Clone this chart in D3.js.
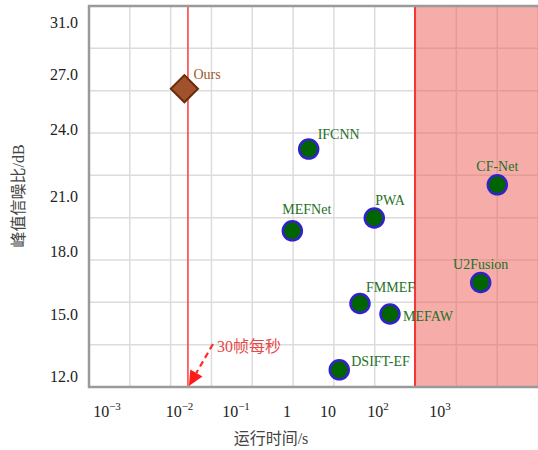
<!DOCTYPE html>
<html><head><meta charset="utf-8">
<script src="https://cdn.jsdelivr.net/npm/d3@7"></script>
<style>body{margin:0;background:#fff}svg{display:block}</style></head>
<body><svg id="c" width="538" height="450"></svg>
<script>
// ---- data ----
const methods  = ["IFCNN","MEFNet","PWA","FMMEF","MEFAW","DSIFT-EF","CF-Net","U2Fusion"];
const runtimes = [3.38, 1.35, 84.3, 43.6, 156, 16.8, 8400, 4530];   // seconds
const psnrs    = [23.1, 19.1, 19.8, 15.5, 15.0, 12.3, 21.5, 16.5];  // dB
const oursName = "Ours";
const oursRuntime = 0.0122;
const oursPsnr = 26.2;
const xTickValues = [1e-3, 1e-2, 1e-1, 1, 10, 1e2, 1e3];
const xTickBases  = ["10", "10", "10", "1", "10", "10", "10"];
const xTickExps   = ["\u22123", "\u22122", "\u22121", "", "", "2", "3"];
const yTickValues = [12, 15, 18, 21, 24, 27, 31];
const yTickLabels = ["12.0", "15.0", "18.0", "21.0", "24.0", "27.0", "31.0"];
const fpsLimit = 0.0141;     // 30 fps line
const slowLimit = 395;       // slow region start
const fpsText = "30帧每秒";
const xTitle = "运行时间/s";
const yTitle = "峰值信噪比/dB";

// ---- layout ----
const L = 89, R = 538, T = 6, B = 387;
const svg = d3.select("#c");
const serif = "Liberation Serif, Times New Roman, Times, Noto Sans CJK SC, serif";

const x = d3.scaleLog().domain(xTickValues).range([107, 179.5, 236, 287, 328, 378, 440]);
const y = d3.scaleLinear().domain(yTickValues).range([376, 314, 251, 196, 129, 74, 22]);
const gx = d3.scaleLinear().domain([0, 11]).range([L, R]);
const gy = d3.scaleLinear().domain([0, 9]).range([T, B]);

svg.append("rect").attr("width", 538).attr("height", 450).attr("fill", "#fff");

// grid
svg.append("g").selectAll("line").data(d3.range(1, 12)).join("line")
  .attr("x1", d => gx(d)).attr("x2", d => gx(d)).attr("y1", T).attr("y2", B)
  .attr("stroke", "#dcdcdc").attr("stroke-width", 1.5);
svg.append("g").selectAll("line").data(d3.range(1, 9)).join("line")
  .attr("y1", d => gy(d)).attr("y2", d => gy(d)).attr("x1", L).attr("x2", R)
  .attr("stroke", "#dcdcdc").attr("stroke-width", 1.5);

// slow region
svg.append("rect").attr("x", x(slowLimit)).attr("y", T)
  .attr("width", R - x(slowLimit)).attr("height", B - T)
  .attr("fill", "#ee5a52").attr("fill-opacity", 0.5);
svg.append("line").attr("x1", x(slowLimit)).attr("x2", x(slowLimit)).attr("y1", T).attr("y2", B)
  .attr("stroke", "#f03838").attr("stroke-width", 2);

// 30 fps line
svg.append("line").attr("x1", x(fpsLimit)).attr("x2", x(fpsLimit)).attr("y1", T).attr("y2", B)
  .attr("stroke", "#ff4545").attr("stroke-width", 1.6);

// frame
svg.append("path").attr("d", `M${R},${T}H${L}V${B}H${R}`)
  .attr("fill", "none").attr("stroke", "#9a9a9a").attr("stroke-width", 2.5);

// y tick labels
svg.append("g").selectAll("text").data(yTickValues).join("text")
  .attr("x", 78).attr("y", d => y(d)).attr("dy", "0.35em")
  .attr("text-anchor", "end").attr("font-family", serif).attr("font-size", 16)
  .attr("fill", "#222").text((d, i) => yTickLabels[i]);

// x tick labels
const xt = svg.append("g").selectAll("text").data(xTickValues).join("text")
  .attr("x", d => x(d)).attr("y", 417)
  .attr("text-anchor", "middle").attr("font-family", serif).attr("font-size", 16)
  .attr("fill", "#222");
xt.append("tspan").text((d, i) => xTickBases[i]);
xt.append("tspan").attr("dy", -7).attr("font-size", 11).text((d, i) => xTickExps[i]);

// axis titles
svg.append("text").attr("x", 271).attr("y", 444).attr("text-anchor", "middle")
  .attr("font-family", serif).attr("font-size", 16).attr("fill", "#444").text(xTitle);
svg.append("text").attr("transform", "translate(24,196) rotate(-90)").attr("text-anchor", "middle")
  .attr("font-family", serif).attr("font-size", 16).attr("fill", "#444").text(yTitle);

// points
const pts = methods.map((m, i) => ({name: m, t: runtimes[i], p: psnrs[i]}));
const labelOffsets = [[9,-10],[-10,-17],[1,-13],[6,-12],[13,7],[12,-4],["c",-14],["c",-14]];
svg.append("g").selectAll("circle").data(pts).join("circle")
  .attr("cx", d => x(d.t)).attr("cy", d => y(d.p)).attr("r", 9.5)
  .attr("fill", "#006400").attr("stroke", "#3322cc").attr("stroke-width", 2.5);
svg.append("g").selectAll("text").data(pts).join("text")
  .attr("x", (d, i) => x(d.t) + (labelOffsets[i][0] === "c" ? 0 : labelOffsets[i][0]))
  .attr("y", (d, i) => y(d.p) + labelOffsets[i][1])
  .attr("text-anchor", (d, i) => labelOffsets[i][0] === "c" ? "middle" : "start")
  .attr("font-family", serif).attr("font-size", 14).attr("fill", "#257025")
  .text(d => d.name);

// ours
const ox = x(oursRuntime), oy = y(oursPsnr);
svg.append("path").attr("d", d3.symbol(d3.symbolSquare, 370)())
  .attr("transform", `translate(${ox},${oy}) rotate(45)`)
  .attr("fill", "#a0522d").attr("stroke", "#6a2a0e").attr("stroke-width", 2);
svg.append("text").attr("x", ox + 9).attr("y", oy - 10)
  .attr("font-family", serif).attr("font-size", 14).attr("fill", "#9c5a2a").text(oursName);

// annotation: dashed arrow with a large filled head
const fx = x(fpsLimit);
const sx = fx + 25, sy = 344, tx = fx + 1, ty = B - 1;
const ang = Math.atan2(ty - sy, tx - sx);
const headLen = 15, headW = 7;
const bx = tx - headLen * Math.cos(ang), by = ty - headLen * Math.sin(ang);
svg.append("line").attr("x1", sx).attr("y1", sy).attr("x2", bx).attr("y2", by)
  .attr("stroke", "#ff2a2a").attr("stroke-width", 2.2).attr("stroke-dasharray", "6,4");
svg.append("path")
  .attr("d", `M${tx},${ty}L${bx + headW * Math.sin(ang)},${by - headW * Math.cos(ang)}L${bx - headW * Math.sin(ang)},${by + headW * Math.cos(ang)}Z`)
  .attr("fill", "#ff1a1a");
svg.append("text").attr("x", fx + 29).attr("y", 352)
  .attr("font-family", serif).attr("font-size", 16).attr("fill", "#e84848").text(fpsText);
</script></body></html>
